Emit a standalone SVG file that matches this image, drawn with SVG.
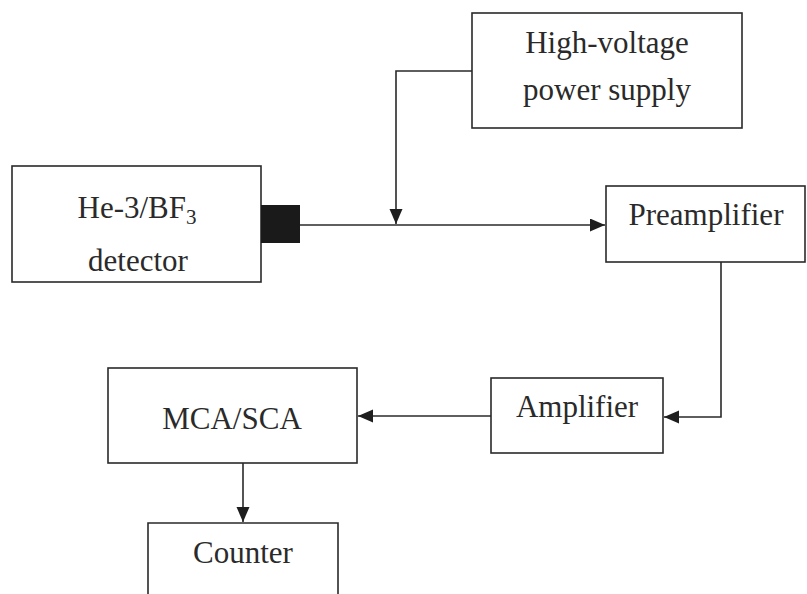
<svg xmlns="http://www.w3.org/2000/svg" width="807" height="594" viewBox="0 0 807 594">
<style>
.box{fill:#fff;stroke:#2a2a2a;stroke-width:1.6}
.lbl{font-family:"Liberation Serif","Times New Roman",serif;font-size:31px;fill:#2a2a2a;text-anchor:middle}
.conn{fill:none;stroke:#2a2a2a;stroke-width:1.6}
</style>
<defs>
<marker id="arr" markerUnits="userSpaceOnUse" markerWidth="16" markerHeight="14" refX="15" refY="6.5" orient="auto">
<path d="M0,0 L15,6.5 L0,13 z" fill="#1e1e1e"/>
</marker>
</defs>
<rect width="807" height="594" fill="#fff"/>
<g id="connectors">
<path class="conn" d="M472,71 H396 V224" marker-end="url(#arr)"/>
<path class="conn" d="M300,225 H605" marker-end="url(#arr)"/>
<path class="conn" d="M721,262 V417 H664" marker-end="url(#arr)"/>
<path class="conn" d="M491,416 H358" marker-end="url(#arr)"/>
<path class="conn" d="M243,463 V522" marker-end="url(#arr)"/>
</g>
<g id="detector">
<rect class="box" x="12" y="166" width="249" height="116"/>
<rect x="261" y="205" width="39" height="38" fill="#1a1a1a"/>
<text class="lbl" x="137" y="218">He-3/BF<tspan font-size="21" dy="6">3</tspan></text>
<text class="lbl" x="138" y="271">detector</text>
</g>
<g id="hv">
<rect class="box" x="472" y="13" width="270" height="115"/>
<text class="lbl" x="607" y="53">High-voltage</text>
<text class="lbl" x="607" y="100">power supply</text>
</g>
<g id="preamp">
<rect class="box" x="606" y="186" width="199" height="76"/>
<text class="lbl" x="706" y="225">Preamplifier</text>
</g>
<g id="amp">
<rect class="box" x="491" y="378" width="172" height="75"/>
<text class="lbl" x="577" y="417">Amplifier</text>
</g>
<g id="mca">
<rect class="box" x="108" y="368" width="249" height="95"/>
<text class="lbl" x="232" y="429">MCA/SCA</text>
</g>
<g id="counter">
<path class="box" d="M148,600 V523 H338 V600"/>
<text class="lbl" x="243" y="563">Counter</text>
</g>
</svg>
